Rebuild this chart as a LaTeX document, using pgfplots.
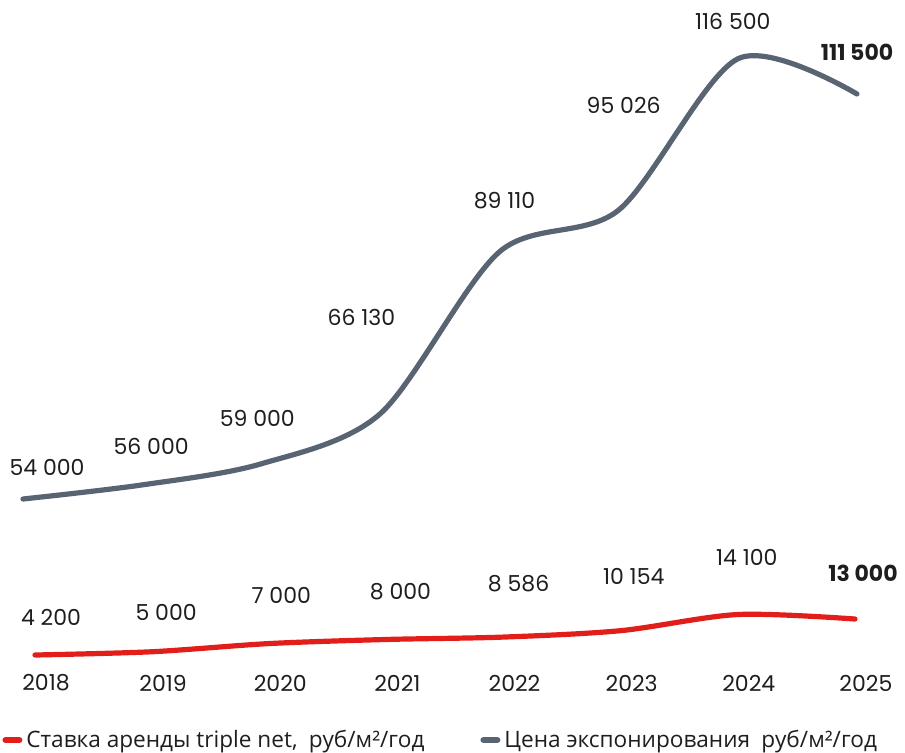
\documentclass[border=0pt]{standalone}
\usepackage{fontspec}
\setmainfont{Poppins}
\newfontfamily\legfont{Open Sans}
\usepackage{pgfplots}
\pgfplotsset{compat=1.18}
\definecolor{slate}{RGB}{89,100,115}
\definecolor{rentred}{RGB}{226,30,26}
\definecolor{txt}{RGB}{30,30,30}
\newcommand\lbl{\fontsize{11pt}{13pt}\selectfont}
\tikzset{lab/.style={inner sep=0pt, anchor=center, font=\lbl, text=txt}}

\begin{document}
\begin{tikzpicture}
\path[use as bounding box] (0,0) rectangle (452.5pt,376pt);

% price of exposure (grey)
\begin{axis}[at={(11.5pt,126.5pt)}, anchor=south west,
             scale only axis, width=417pt, height=202.5pt,
             xmin=2018, xmax=2025, ymin=54000, ymax=111500,
             clip=false, axis line style={draw=none},
             xtick=\empty, ytick=\empty]
    \addplot[slate, line width=2.6pt, line cap=round, smooth]
        coordinates {(2018,54000) (2019,56000) (2020,59000) (2021,66130)
                     (2022,89110) (2023,95026) (2024,116500) (2025,111500)};
    \node[lab, xshift=12pt,   yshift=16pt]   at (axis cs:2018,54000)  {54 000};
    \node[lab, xshift=4.5pt,  yshift=19.5pt] at (axis cs:2019,56000)  {56 000};
    \node[lab, xshift=-2pt,   yshift=22.5pt] at (axis cs:2020,59000)  {59 000};
    \node[lab, xshift=-9.5pt, yshift=48pt]   at (axis cs:2021,66130)  {66 130};
    \node[lab, xshift=2.5pt,  yshift=25.5pt] at (axis cs:2022,89110)  {89 110};
    \node[lab, xshift=2.5pt,  yshift=52.5pt] at (axis cs:2023,95026)  {95 026};
    \node[lab, xshift=-2.5pt, yshift=18.5pt] at (axis cs:2024,116500) {116 500};
    \node[lab, font=\lbl\bfseries, yshift=21pt] at (axis cs:2025,111500) {111 500};
\end{axis}

% triple net rent (red)
\begin{axis}[at={(17.5pt,48.5pt)}, anchor=south west,
             scale only axis, width=410pt, height=18pt,
             xmin=2018, xmax=2025, ymin=4200, ymax=13000,
             clip=false, axis line style={draw=none},
             ytick=\empty, xtick={2018,...,2025}, major tick length=0pt,
             xticklabels={2018,2019,2020,2021,2022,2023,2024,2025},
             xticklabel style={anchor=center, yshift=-14pt, xshift=5.5pt,
                               font=\lbl, text=txt},
             legend style={at={(-0.0402,-2.361)}, anchor=west, draw=none,
                           fill=none, inner sep=0pt, legend columns=2,
                           font=\legfont\fontsize{11.3pt}{13pt}\selectfont,
                           text=txt,
                           /tikz/every even column/.append style={column sep=26pt}},
             legend image code/.code={\draw[#1, line width=3.2pt, line cap=round]
                                      (1.6pt,0) -- (8.4pt,0);}]
    \addplot[rentred, line width=2.6pt, line cap=round, smooth]
        coordinates {(2018,4200) (2019,5000) (2020,7000) (2021,8000)
                     (2022,8586) (2023,10154) (2024,14100) (2025,13000)};
    \addlegendentry{Ставка аренды triple net,\enspace руб/м²/год}
    \addlegendimage{slate}
    \addlegendentry{Цена экспонирования\enspace руб/м²/год}
    \node[lab, xshift=8pt,   yshift=19pt]   at (axis cs:2018,4200)  {4 200};
    \node[lab, xshift=7pt,   yshift=19.5pt] at (axis cs:2019,5000)  {5 000};
    \node[lab, xshift=6pt,   yshift=24pt]   at (axis cs:2020,7000)  {7 000};
    \node[lab, xshift=7pt,   yshift=24pt]   at (axis cs:2021,8000)  {8 000};
    \node[lab, xshift=7.5pt, yshift=26.5pt] at (axis cs:2022,8586)  {8 586};
    \node[lab, xshift=6.5pt, yshift=27pt]   at (axis cs:2023,10154) {10 154};
    \node[lab, xshift=4.5pt, yshift=28.5pt] at (axis cs:2024,14100) {14 100};
    \node[lab, font=\lbl\bfseries, xshift=4pt, yshift=23pt] at (axis cs:2025,13000) {13 000};
\end{axis}
\end{tikzpicture}
\end{document}
